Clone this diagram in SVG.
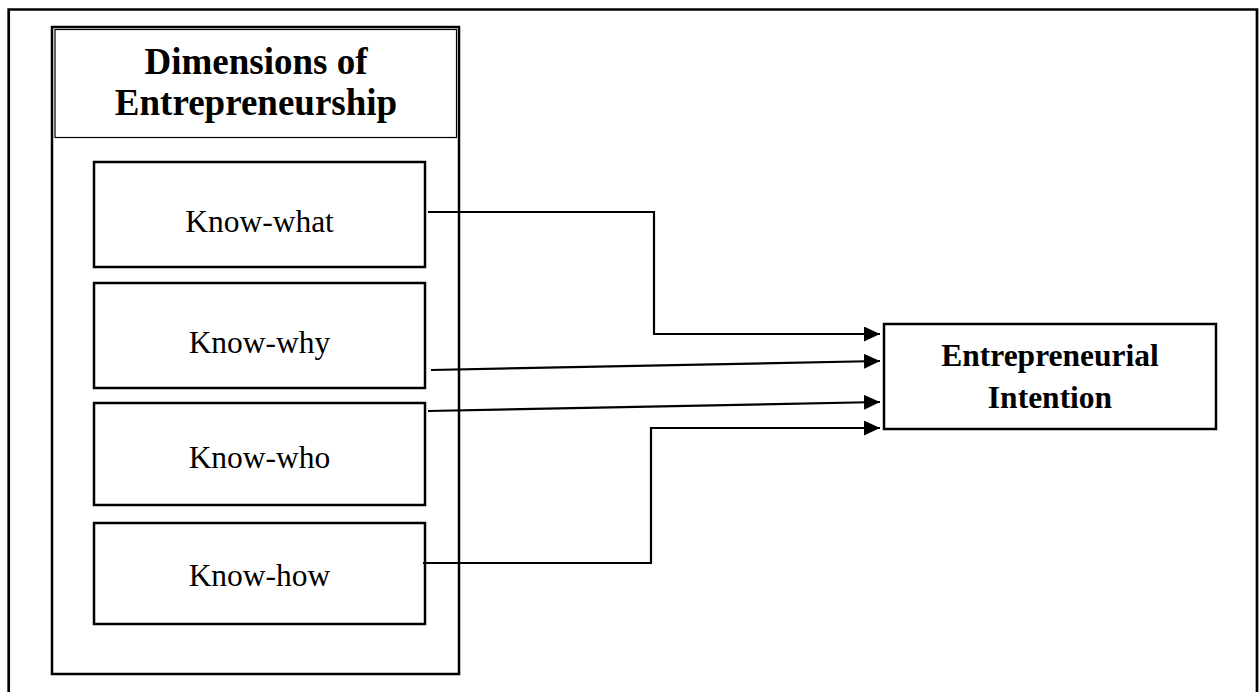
<svg xmlns="http://www.w3.org/2000/svg" width="1259" height="692" viewBox="0 0 1259 692">
<style>
.box{fill:#fff;stroke:#000;stroke-width:2.5}
.thin{fill:none;stroke:#000;stroke-width:1.2}
.lbl{font-family:"Liberation Serif","Times New Roman",serif;font-size:31.5px;fill:#000;text-anchor:middle}
.bold{font-weight:bold}
.title{font-family:"Liberation Serif","Times New Roman",serif;font-size:37px;font-weight:bold;fill:#000;text-anchor:middle}
.conn{fill:none;stroke:#000;stroke-width:2.2}
</style>
<defs>
<marker id="arr" markerWidth="16" markerHeight="15" refX="16" refY="7.5" orient="auto" markerUnits="userSpaceOnUse">
<path d="M0,0 L16,7.5 L0,15 Z" fill="#000"/>
</marker>
</defs>
<rect width="1259" height="692" fill="#fff"/>
<path d="M8.7,700 V9.5 H1257 V700" fill="none" stroke="#000" stroke-width="2.7"/>
<g id="dimensions">
<rect class="box" x="52" y="27" width="407" height="647"/>
<rect class="thin" x="55" y="29.5" width="401.5" height="108"/>
<text class="title" x="256" y="74">Dimensions of</text>
<text class="title" x="256" y="115">Entrepreneurship</text>
</g>
<g id="know-what">
<rect class="box" x="94" y="162" width="331" height="105"/>
<text class="lbl" x="259.5" y="232">Know-what</text>
</g>
<g id="know-why">
<rect class="box" x="94" y="283" width="331" height="105"/>
<text class="lbl" x="259.5" y="353">Know-why</text>
</g>
<g id="know-who">
<rect class="box" x="94" y="403" width="331" height="102"/>
<text class="lbl" x="259.5" y="468">Know-who</text>
</g>
<g id="know-how">
<rect class="box" x="94" y="523" width="331" height="101"/>
<text class="lbl" x="259.5" y="586">Know-how</text>
</g>
<g id="intention">
<rect class="box" x="884" y="324" width="332" height="105"/>
<text class="lbl bold" x="1050" y="366">Entrepreneurial</text>
<text class="lbl bold" x="1050" y="408">Intention</text>
</g>
<g id="connectors">
<path class="conn" d="M428,212 H654 V334 H880" marker-end="url(#arr)"/>
<path class="conn" d="M431,370 L880,361" marker-end="url(#arr)"/>
<path class="conn" d="M428,411 L880,402" marker-end="url(#arr)"/>
<path class="conn" d="M423,563 H651 V428 H880" marker-end="url(#arr)"/>
</g>
</svg>
